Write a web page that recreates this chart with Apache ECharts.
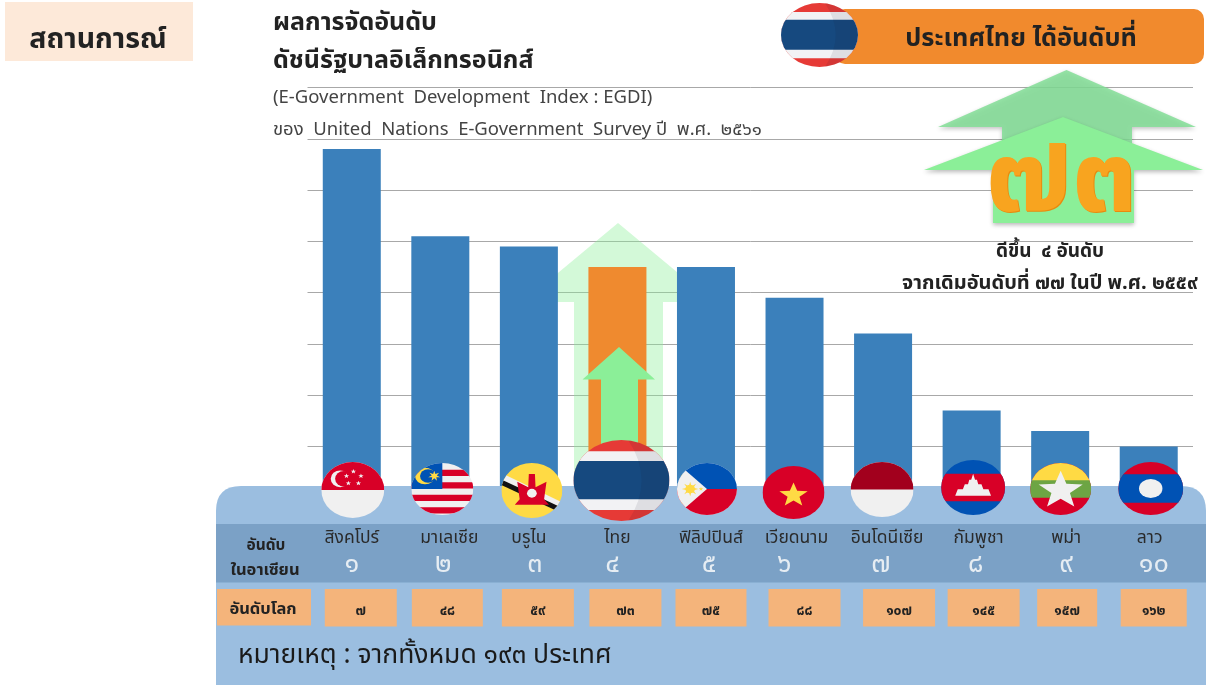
<!DOCTYPE html>
<html><head><meta charset="utf-8">
<style>html,body{margin:0;padding:0;background:#fff}#c{width:1206px;height:685px}</style>
<script src="https://cdn.jsdelivr.net/npm/echarts@6/dist/echarts.min.js"></script>
</head><body><div id="c"></div>
<script>
const categories=['สิงคโปร์','มาเลเซีย','บรูไน','ไทย','ฟิลิปปินส์','เวียดนาม','อินโดนีเซีย','กัมพูชา','พม่า','ลาว'];
const egdiValues=[0.88,0.71,0.69,0.65,0.65,0.59,0.52,0.37,0.33,0.30];
const aseanRanks=['๑','๒','๓','๔','๕','๖','๗','๘','๙','๑๐'];
const worldRanks=['๗','๔๘','๕๙','๗๓','๗๕','๘๘','๑๐๗','๑๔๕','๑๕๗','๑๖๒'];
const flagKeys=['sg','my','bn','th','ph','vn','id','kh','mm','la'];

const FF='"Noto Sans Thai","Noto Sans","Noto Sans CJK SC",sans-serif';
const txt=(text,x,y,size,o={})=>({type:'text',silent:true,style:Object.assign({text,x,y,fill:'#222',textAlign:'center',verticalAlign:'middle',font:`${o.bold?'bold ':''}${size}px ${FF}`},o.style||{})});
const rc=(x,y,w,h,fill)=>({type:'rect',silent:true,shape:{x,y,width:w,height:h},style:{fill}});
const star=(cx,cy,R,fill,n=5)=>{const p=[];for(let i=0;i<n*2;i++){const r=i%2?R*0.42:R,a=-Math.PI/2+i*Math.PI/n;p.push([cx+r*Math.cos(a),cy+r*Math.sin(a)]);}return{type:'polygon',silent:true,shape:{points:p},style:{fill}};};
const circ=(cx,cy,r,fill)=>({type:'circle',silent:true,shape:{cx,cy,r},style:{fill}});
const poly=(points,fill)=>({type:'polygon',silent:true,shape:{points},style:{fill}});
const arrow=(ax,ay,wl,wr,wy,sl,sr,sb,fill,shadow)=>({type:'polygon',silent:true,shape:{points:[[ax,ay],[wr,wy],[sr,wy],[sr,sb],[sl,sb],[sl,wy],[wl,wy]]},style:Object.assign({fill},shadow?{shadowBlur:4,shadowColor:'rgba(0,0,0,.28)',shadowOffsetY:2}:{})});

const R='#d80027',W='#f0f0f0',B='#0052b4',Y='#ffda44';
const thaiFlag=()=>[rc(-50,-50,100,100,'#e63a36'),rc(-50,-36,100,72.5,'#f2f2f4'),rc(-50,-24,100,47,'#16497f'),
  {type:'path',silent:true,shape:{pathData:'M7,-50 Q35,0 7,50 L60,50 L60,-50 Z'},style:{fill:'rgba(20,20,40,.09)'}}];
const flags={
 sg:()=>[rc(-50,-50,100,100,W),rc(-50,-50,100,50,R),circ(-20,-20,15,W),circ(-14,-20,14,R),star(1,-33,4.5,W),star(13,-25,4.5,W),star(9,-12,4.5,W),star(-7,-12,4.5,W),star(-10,-25,4.5,W)],
 my:()=>{const a=[rc(-50,-50,100,100,W)];[-37,-13,11,35].forEach(y=>a.push(rc(-50,y,100,12,R)));a.push(rc(-50,-50,50,50,B),circ(-28,-25,16,Y),circ(-23,-25,13,B),star(-13,-25,10,Y,7));return a;},
 bn:()=>[rc(-50,-50,100,100,Y),poly([[-50,-32],[-50,-12],[50,42],[50,22]],W),poly([[-50,-20],[-50,-10],[50,42],[50,32]],'#111'),
   poly([[-5,-30],[5,-30],[6,-6],[24,-16],[20,16],[28,26],[-28,26],[-20,16],[-24,-16],[-6,-6]],R),circ(0,5,8,W)],
 th:thaiFlag,
 ph:()=>[rc(-50,-50,100,100,W),rc(-50,-50,100,50,B),rc(-50,0,100,50,R),poly([[-50,-50],[0,0],[-50,50]],W),star(-28,0,14,Y,8),circ(-28,0,8,Y),star(-44,-28,4,Y),star(-44,28,4,Y),star(-10,0,4,Y)],
 vn:()=>[rc(-50,-50,100,100,R),star(0,5,24,Y)],
 id:()=>[rc(-50,-50,100,100,W),rc(-50,-50,100,50,'#a2001d')],
 kh:()=>[rc(-50,-50,100,100,B),rc(-50,-25,100,50,R),poly([[-28,15],[-24,3],[-16,3],[-13,-6],[-8,-6],[-6,-14],[-3,-14],[0,-25],[3,-14],[6,-14],[8,-6],[13,-6],[16,3],[24,3],[28,15]],W)],
 mm:()=>[rc(-50,-50,100,100,R),rc(-50,-50,100,35,Y),rc(-50,-17,100,34,'#6da544'),star(0,3,38,W)],
 la:()=>[rc(-50,-50,100,100,R),rc(-50,-27,100,54,B),circ(0,0,18,W)]
};
const flag=(key,cx,cy,w,h)=>({type:'group',x:cx,y:cy,scaleX:w/100,scaleY:h/100,clipPath:{type:'circle',shape:{cx:0,cy:0,r:50}},children:flags[key]()});

// horizontal nudges and boxes relative to each category's centre on the axis
const flagDX=[1,2,3,4,1,-1,-1,1.5,0.5,2], flagCY=[490,489,490.5,480.5,489,492.5,489.5,487.5,489,488.5], flagW=[63,62,61,96,60,62,63,64,61,65], flagH=[56,52,55,81,52,53,55,55,52,53];
const nameDX=[0,9,0,0,5,2,4,7,6,1];
const rankDX=[0,3,6,-5,3,-10,-2,4,6,5];
const boxDX=[9,7,9,8,5,10,16,12,7,5], boxW=[72,71,72,72,71,72,72,72,60,66];

const leftText=(text,y,size,fill,bold)=>({type:'text',silent:true,style:{text,x:273,y,fill,textAlign:'left',verticalAlign:'middle',font:`${bold?'bold ':''}${size}px ${FF}`}});

const opt={
 animation:false,
 grid:{left:307.5,right:13,top:87.5,bottom:187.3},
 xAxis:{type:'category',data:categories,axisLine:{show:false},axisTick:{show:false},axisLabel:{show:false}},
 yAxis:{type:'value',min:0.2,max:1,interval:0.1,axisLabel:{show:false},axisLine:{show:false},axisTick:{show:false},splitLine:{lineStyle:{color:'#a8a8a8',width:1}}},
 series:[
  {type:'custom',coordinateSystem:'none',z:1,silent:true,data:[0],renderItem:()=>arrow(618,223,523,713,302,574,663,490,'rgba(139,239,152,.38)')},
  {type:'bar',z:2,barWidth:58,silent:true,data:egdiValues.map((v,i)=>({value:v,itemStyle:{color:i===3?'#ef8a2f':'#3b80bb'}}))},
  {type:'custom',coordinateSystem:'none',z:3,silent:true,data:[0],renderItem:()=>({type:'group',children:[
    arrow(619,347,582.5,655,379.5,601,638,470,'#8bef98'),
    {type:'path',silent:true,shape:{pathData:'M241,486 H1181 Q1206,486 1206,511 V685 H216 V511 Q216,486 241,486 Z'},style:{fill:'#9bbee0'}},
    rc(216,524,990,58.5,'#7ba1c6'),
    rc(217,589,94,36.5,'#f4b47b'),
    txt('อันดับ',266,547,15.5,{bold:true}),txt('ในอาเซียน',265,572,16.5,{bold:true}),txt('อันดับโลก',263,611,16.5,{bold:true}),
    {type:'text',silent:true,style:{text:'หมายเหตุ : จากทั้งหมด ๑๙๓ ประเทศ',x:238,y:658,fill:'#1a1a1a',textAlign:'left',verticalAlign:'middle',font:`26.5px ${FF}`}},
    rc(5,2,188,59,'#fde9d9'),
    txt('สถานการณ์',98,42,28.5,{bold:true}),
    leftText('ผลการจัดอันดับ',25,25,'#222',true),
    leftText('ดัชนีรัฐบาลอิเล็กทรอนิกส์',63,25,'#222',true),
    leftText('(E-Government  Development  Index : EGDI)',99,18.5,'#444'),
    leftText('ของ  United  Nations  E-Government  Survey ปี  พ.ศ.  ๒๕๖๑',131,18.5,'#444'),
    {type:'rect',silent:true,shape:{x:835,y:9,width:369,height:55,r:10},style:{fill:'#f18a2d'}},
    flag('th',819.5,35,77,64),
    txt('ประเทศไทย ได้อันดับที่',1021,41,25.3,{bold:true}),
    arrow(1066.5,70,938,1196,127,1002,1132,150,'rgba(130,222,150,.85)',true),
    arrow(1063,117,924,1203,170,993,1134,223,'#8bef98',true),
    {type:'text',silent:true,style:{text:'๗๓',x:1062,y:189,textAlign:'center',verticalAlign:'middle',font:`bold 115px ${FF}`,fill:'#e88a0e',shadowBlur:5,shadowColor:'rgba(0,0,0,.4)',shadowOffsetY:2}},
    {type:'text',silent:true,style:{text:'๗๓',x:1061,y:188,textAlign:'center',verticalAlign:'middle',font:`bold 115px ${FF}`,fill:'#f8a41f'}},
    txt('ดีขึ้น  ๔ อันดับ',1050,253,19,{bold:true}),
    txt('จากเดิมอันดับที่ ๗๗ ในปี พ.ศ. ๒๕๕๙',1050,285,20,{bold:true})
  ]})},
  {type:'custom',coordinateSystem:'cartesian2d',z:4,silent:true,encode:{x:0,y:1},data:categories.map((c,i)=>[i,egdiValues[i]]),
   renderItem:(p,api)=>{
    const i=api.value(0),x=api.coord([i,0.2])[0];
    return{type:'group',children:[
      flag(flagKeys[i],x+flagDX[i],flagCY[i],flagW[i],flagH[i]),
      txt(categories[i],x+nameDX[i],539,17.5,{style:{fill:'#2a2a2a'}}),
      txt(aseanRanks[i],x+rankDX[i],567,27,{style:{fill:'#e6edf3'}}),
      rc(x+boxDX[i]-boxW[i]/2,589,boxW[i],37.5,'#f4b47b'),
      txt(worldRanks[i],x+boxDX[i],612,14,{bold:true})
    ]};
   }}
 ]
};
echarts.init(document.getElementById('c'),null,{renderer:'canvas'}).setOption(opt);
</script></body></html>
